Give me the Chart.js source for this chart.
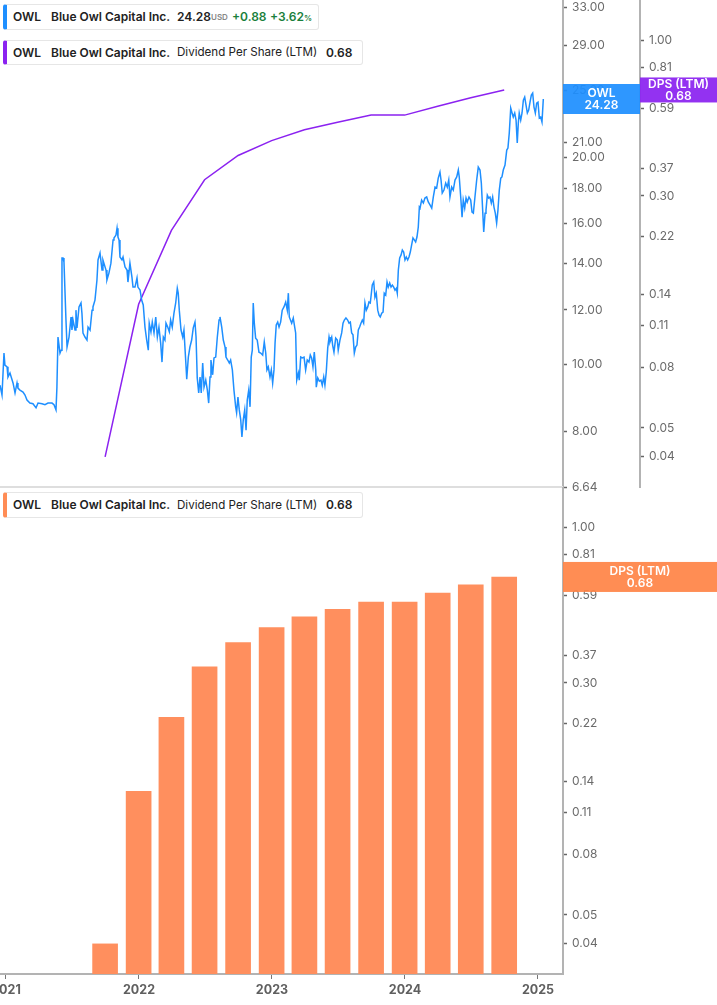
<!DOCTYPE html>
<html>
<head>
<meta charset="utf-8">
<script src="https://cdn.jsdelivr.net/npm/chart.js@4.4.0/dist/chart.umd.min.js"></script>
<style>
  body { margin: 0; background: #fff; width: 717px; height: 1005px; overflow: hidden; position: relative; font-family: Inter, "Noto Sans", sans-serif; }
  canvas { position: absolute; left: 0; }
  #topChart { top: 0; }
  #bottomChart { top: 487px; }
  .lg { position: absolute; left: 3px; height: 24px; background: #fff; border: 1px solid #e6e6e6; border-left: 4px solid; border-radius: 3px; font-size: 12px; font-weight: 600; color: #222; z-index: 2; }
  .lg span { position: absolute; top: 0; line-height: 24px; white-space: nowrap; }
  .lg .sm { font-size: 8px; color: #888; font-weight: 600; }
  .lg .gr { color: #1a7f3c; }
  .lg .gr small { font-size: 8px; }
  .lg .rg { font-weight: 400; font-size: 11.6px; }
</style>
</head>
<body>
<canvas id="topChart" width="717" height="500"></canvas>
<canvas id="bottomChart" width="717" height="518"></canvas>

<div class="lg" style="top:4px; width:311px; border-left-color:#1e8fff;">
  <span style="left:6px">OWL</span>
  <span style="left:44px">Blue Owl Capital Inc.</span>
  <span style="left:170px">24.28</span>
  <span class="sm" style="left:204px">USD</span>
  <span class="gr" style="left:225px">+0.88</span>
  <span class="gr" style="left:263px">+3.62<small>%</small></span>
</div>
<div class="lg" style="top:40px; width:355px; height:23px; border-left-color:#8b22f0;">
  <span style="left:6px; line-height:23px">OWL</span>
  <span style="left:44px; line-height:23px">Blue Owl Capital Inc.</span>
  <span class="rg" style="left:170px; line-height:23px">Dividend Per Share (LTM)</span>
  <span style="left:319px; line-height:23px">0.68</span>
</div>
<div class="lg" style="top:492px; width:355px; border-left-color:#ff8c55;">
  <span style="left:6px">OWL</span>
  <span style="left:44px">Blue Owl Capital Inc.</span>
  <span class="rg" style="left:170px">Dividend Per Share (LTM)</span>
  <span style="left:319px">0.68</span>
</div>

<script>
// axis ticks
const priceTicks = [33, 29, 25, 21, 20, 18, 16, 14, 12, 10, 8, 6.64];
const dpsTicks = [1.0, 0.81, 0.59, 0.37, 0.3, 0.22, 0.14, 0.11, 0.08, 0.05, 0.04];
const yearTicks = [2021, 2022, 2023, 2024, 2025];

// dividend per share (LTM), quarterly
const divDates = ["2021-09-30", "2021-12-31", "2022-03-31", "2022-06-30", "2022-09-30", "2022-12-31",
  "2023-03-31", "2023-06-30", "2023-09-30", "2023-12-31", "2024-03-31", "2024-06-30", "2024-09-30"];
const divValues = [0.04, 0.13, 0.23, 0.34, 0.41, 0.46, 0.50, 0.53, 0.56, 0.56, 0.60, 0.64, 0.68];

// OWL share price (time in decimal years)
const priceTimes = [
  2020.955, 2020.970, 2020.985, 2020.992, 2021.008, 2021.015, 2021.030, 2021.053, 2021.068, 2021.083,
  2021.090, 2021.105, 2021.128, 2021.143, 2021.158, 2021.180, 2021.203, 2021.226, 2021.241, 2021.271,
  2021.293, 2021.316, 2021.346, 2021.361, 2021.376, 2021.383, 2021.391, 2021.406, 2021.414, 2021.421,
  2021.429, 2021.436, 2021.451, 2021.459, 2021.474, 2021.489, 2021.496, 2021.504, 2021.519, 2021.526,
  2021.534, 2021.549, 2021.564, 2021.571, 2021.579, 2021.594, 2021.609, 2021.617, 2021.632, 2021.647,
  2021.654, 2021.669, 2021.684, 2021.692, 2021.707, 2021.722, 2021.729, 2021.752, 2021.759, 2021.774,
  2021.789, 2021.805, 2021.812, 2021.827, 2021.835, 2021.842, 2021.850, 2021.857, 2021.872, 2021.880,
  2021.895, 2021.910, 2021.917, 2021.932, 2021.947, 2021.955, 2021.970, 2021.985, 2021.992, 2022.008,
  2022.020, 2022.032, 2022.045, 2022.058, 2022.070, 2022.077, 2022.090, 2022.100, 2022.113, 2022.126,
  2022.138, 2022.150, 2022.163, 2022.173, 2022.183, 2022.195, 2022.203, 2022.216, 2022.228, 2022.238,
  2022.250, 2022.263, 2022.276, 2022.288, 2022.295, 2022.303, 2022.316, 2022.329, 2022.338, 2022.351,
  2022.359, 2022.371, 2022.383, 2022.396, 2022.408, 2022.421, 2022.429, 2022.438, 2022.449, 2022.459,
  2022.468, 2022.479, 2022.489, 2022.502, 2022.514, 2022.524, 2022.534, 2022.541, 2022.554, 2022.564,
  2022.577, 2022.589, 2022.602, 2022.609, 2022.622, 2022.634, 2022.647, 2022.654, 2022.667, 2022.679,
  2022.689, 2022.702, 2022.714, 2022.727, 2022.734, 2022.744, 2022.754, 2022.765, 2022.774, 2022.784,
  2022.795, 2022.805, 2022.814, 2022.825, 2022.835, 2022.844, 2022.852, 2022.859, 2022.867, 2022.877,
  2022.889, 2022.902, 2022.915, 2022.930, 2022.942, 2022.953, 2022.962, 2022.972, 2022.985, 2022.995,
  2023.005, 2023.015, 2023.023, 2023.032, 2023.043, 2023.053, 2023.065, 2023.077, 2023.090, 2023.103,
  2023.115, 2023.123, 2023.130, 2023.135, 2023.148, 2023.160, 2023.168, 2023.178, 2023.186, 2023.198,
  2023.205, 2023.216, 2023.228, 2023.241, 2023.253, 2023.265, 2023.278, 2023.288, 2023.298, 2023.308,
  2023.318, 2023.329, 2023.333, 2023.344, 2023.356, 2023.368, 2023.378, 2023.389, 2023.398, 2023.408,
  2023.419, 2023.429, 2023.436, 2023.449, 2023.456, 2023.466, 2023.479, 2023.491, 2023.498, 2023.511,
  2023.524, 2023.534, 2023.544, 2023.556, 2023.569, 2023.579, 2023.589, 2023.599, 2023.609, 2023.619,
  2023.629, 2023.639, 2023.649, 2023.659, 2023.669, 2023.679, 2023.689, 2023.699, 2023.709, 2023.720,
  2023.729, 2023.739, 2023.754, 2023.765, 2023.774, 2023.784, 2023.795, 2023.805, 2023.814, 2023.825,
  2023.835, 2023.844, 2023.855, 2023.865, 2023.874, 2023.885, 2023.895, 2023.905, 2023.915, 2023.925,
  2023.935, 2023.942, 2023.950, 2023.960, 2023.970, 2023.980, 2023.990, 2024.000, 2024.010, 2024.020,
  2024.030, 2024.040, 2024.050, 2024.060, 2024.070, 2024.080, 2024.090, 2024.100, 2024.108, 2024.113,
  2024.125, 2024.138, 2024.150, 2024.163, 2024.175, 2024.188, 2024.201, 2024.213, 2024.226, 2024.238,
  2024.250, 2024.263, 2024.271, 2024.280, 2024.293, 2024.306, 2024.318, 2024.329, 2024.338, 2024.351,
  2024.363, 2024.376, 2024.389, 2024.401, 2024.408, 2024.419, 2024.429, 2024.438, 2024.449, 2024.459,
  2024.468, 2024.481, 2024.494, 2024.504, 2024.514, 2024.526, 2024.539, 2024.551, 2024.564, 2024.574,
  2024.584, 2024.592, 2024.602, 2024.609, 2024.619, 2024.629, 2024.639, 2024.649, 2024.659, 2024.669,
  2024.679, 2024.689, 2024.699, 2024.709, 2024.720, 2024.729, 2024.739, 2024.752, 2024.765, 2024.774,
  2024.784, 2024.795, 2024.805, 2024.814, 2024.825, 2024.835, 2024.844, 2024.852, 2024.859, 2024.870,
  2024.880, 2024.890, 2024.900, 2024.910, 2024.920, 2024.930, 2024.940, 2024.950, 2024.960, 2024.970,
  2024.980, 2024.990, 2025.000, 2025.010, 2025.020, 2025.030, 2025.040
];
const priceValues = [
  9.33, 9.03, 10.39, 9.98, 9.92, 9.59, 9.72, 9.40, 9.09, 9.40,
  9.24, 9.18, 9.12, 9.03, 8.88, 8.79, 8.77, 8.65, 8.79, 8.77,
  8.74, 8.79, 8.79, 8.74, 8.59, 9.27, 10.96, 10.39, 10.49, 14.27,
  14.27, 14.08, 11.60, 10.60, 10.96, 11.72, 11.22, 11.60, 11.22, 11.99,
  11.30, 12.12, 12.28, 11.87, 11.11, 10.96, 10.85, 11.33, 11.22, 11.99,
  12.12, 12.40, 13.26, 14.18, 14.51, 13.71, 14.18, 13.71, 13.26, 13.57,
  14.03, 15.16, 15.26, 15.41, 15.77, 15.31, 15.16, 14.32, 14.18, 14.32,
  13.85, 13.71, 13.17, 14.03, 13.39, 12.95, 12.95, 13.35, 12.95, 12.82,
  12.40, 12.20, 11.33, 10.85, 10.49, 11.48, 11.15, 11.52, 11.11, 11.72,
  10.96, 11.33, 10.74, 10.08, 10.96, 10.85, 11.48, 11.33, 11.15, 11.60,
  11.33, 11.87, 12.28, 12.90, 12.69, 11.99, 11.22, 10.96, 11.22, 10.15,
  9.52, 10.25, 10.60, 10.85, 11.30, 11.52, 10.96, 9.56, 9.09, 9.59,
  9.09, 10.05, 9.27, 9.49, 9.18, 8.79, 9.59, 10.15, 9.66, 10.22,
  10.25, 10.96, 11.60, 11.72, 11.33, 10.85, 10.60, 10.25, 10.15, 10.05,
  10.15, 9.82, 9.18, 8.68, 8.51, 8.97, 8.59, 8.31, 7.85, 8.31,
  8.59, 8.03, 8.88, 9.18, 8.68, 10.25, 10.49, 12.28, 11.48, 10.92,
  10.85, 10.42, 10.39, 10.32, 10.78, 10.39, 9.82, 9.92, 9.59, 9.82,
  9.40, 9.82, 10.74, 11.41, 11.52, 11.33, 11.52, 11.99, 12.12, 12.32,
  11.99, 12.69, 11.72, 11.72, 11.48, 11.68, 11.41, 11.11, 9.49, 9.72,
  9.49, 10.25, 10.22, 10.25, 9.82, 10.15, 10.08, 10.32, 10.22, 9.92,
  10.42, 9.82, 9.27, 9.56, 9.46, 9.49, 9.33, 9.59, 9.33, 9.75,
  10.56, 10.96, 10.78, 10.96, 10.67, 10.42, 10.92, 10.85, 10.49, 10.85,
  11.11, 11.48, 11.60, 11.68, 11.60, 11.48, 11.52, 11.11, 11.04, 10.39,
  10.60, 10.67, 11.22, 11.33, 11.48, 11.60, 11.48, 12.28, 11.99, 12.12,
  12.32, 12.28, 13.04, 13.17, 12.52, 12.69, 11.99, 11.79, 11.72, 11.87,
  11.91, 12.69, 12.61, 13.17, 12.95, 13.13, 12.95, 13.04, 12.95, 12.82,
  12.90, 12.69, 13.71, 14.27, 14.41, 14.66, 14.56, 14.18, 14.32, 14.18,
  14.32, 14.56, 14.91, 15.26, 15.16, 15.06, 15.31, 15.83, 16.92, 16.86,
  17.32, 17.15, 17.44, 17.50, 17.21, 17.04, 16.86, 17.50, 18.09, 18.03,
  18.64, 19.02, 18.52, 17.73, 17.91, 18.33, 18.09, 18.52, 17.50, 18.09,
  17.91, 18.52, 18.71, 19.15, 18.71, 17.50, 16.36, 17.32, 16.86, 17.44,
  17.21, 17.50, 17.32, 16.64, 16.58, 17.50, 18.52, 19.34, 19.15, 18.33,
  16.75, 15.57, 16.58, 16.75, 17.61, 17.44, 17.50, 17.15, 17.50, 16.92,
  16.58, 16.04, 16.75, 17.91, 18.64, 18.71, 19.15, 19.47, 20.47, 20.61,
  21.67, 23.55, 23.17, 22.86, 23.17, 22.63, 20.96, 22.41, 23.17, 22.63,
  23.17, 24.19, 24.43, 23.79, 23.17, 23.40, 24.03, 24.60, 24.76, 23.63,
  23.17, 23.95, 24.03, 22.78, 22.86, 22.48, 24.28
];

const lastPrice = 24.28;
const lastDps = 0.68;

// view range
const xMin = 2020.955, xMax = 2025.188;
const priceMin = 6.64, priceMax = 33.8;
const dpsMin = 0.0317, dpsMax = 1.362;

function toYear(s) {
  const [y, m, d] = s.split("-").map(Number);
  const start = Date.UTC(y, 0, 1);
  return y + (Date.UTC(y, m - 1, d) - start) / (Date.UTC(y + 1, 0, 1) - start);
}
const divTimes = divDates.map(toYear);

Chart.defaults.font.family = "Inter, 'Noto Sans', sans-serif";
Chart.defaults.font.size = 12;
Chart.defaults.color = "#6b6b6b";

// draws the value tags on the axes and the panel bottom line
const overlay = {
  id: "overlay",
  afterDraw(chart, args, opts) {
    const ctx = chart.ctx;
    const area = chart.chartArea;
    if (opts.bottomLine) {
      ctx.save();
      ctx.strokeStyle = "#dedede";
      ctx.lineWidth = 2;
      ctx.beginPath();
      ctx.moveTo(area.left, area.bottom);
      ctx.lineTo(area.right, area.bottom);
      ctx.stroke();
      ctx.restore();
    }
    (opts.tags || []).forEach((t) => {
      const s = chart.scales[t.axis];
      const y = s.getPixelForValue(t.value);
      const x0 = s.left, x1 = s.right;
      ctx.save();
      ctx.globalAlpha = 0.93;
      ctx.fillStyle = t.color;
      ctx.fillRect(x0, y - t.h / 2, x1 - x0, t.h);
      ctx.globalAlpha = 1;
      ctx.fillStyle = "#fff";
      ctx.font = "600 12px Inter, 'Noto Sans', sans-serif";
      ctx.textAlign = "center";
      ctx.textBaseline = "middle";
      ctx.fillText(t.lines[0], (x0 + x1) / 2, y - 6);
      ctx.fillText(t.lines[1], (x0 + x1) / 2, y + 6);
      ctx.restore();
    });
  },
};

function logAxis(ticks, min, max, width, extra) {
  return Object.assign({
    type: "logarithmic",
    position: "right",
    min: min,
    max: max,
    afterBuildTicks: (s) => { s.ticks = ticks.map((v) => ({ value: v })); },
    afterFit: (s) => { s.width = width; s.paddingTop = 0; s.paddingBottom = 0; },
    ticks: { autoSkip: false, padding: 5, color: "#6b6b6b", callback: (v) => Number(v).toFixed(2) },
    grid: { drawOnChartArea: false, drawTicks: true, tickLength: 4, tickColor: "#666", tickWidth: 1.5 },
    border: { display: true, color: "#b3b3b3", width: 2 },
  }, extra || {});
}

// top panel: price + DPS line
new Chart(document.getElementById("topChart"), {
  type: "line",
  data: {
    datasets: [
      {
        data: priceTimes.map((t, i) => ({ x: t, y: priceValues[i] })),
        yAxisID: "yPrice",
        borderColor: "#1e8fff",
        borderWidth: 1.5,
        pointRadius: 0,
        tension: 0,
      },
      {
        data: divTimes.map((t, i) => ({ x: t, y: divValues[i] })),
        yAxisID: "yDps",
        borderColor: "#8b22f0",
        borderWidth: 1.5,
        pointRadius: 0,
        tension: 0,
      },
    ],
  },
  options: {
    responsive: false,
    animation: false,
    events: [],
    layout: { padding: { top: 0, bottom: 13, left: 0, right: 0 } },
    plugins: {
      legend: { display: false },
      tooltip: { enabled: false },
      overlay: {
        bottomLine: true,
        tags: [
          { axis: "yPrice", value: lastPrice, h: 30, color: "#1e8fff", lines: ["OWL", lastPrice.toFixed(2)] },
          { axis: "yDps", value: lastDps, h: 25, color: "#8b22f0", lines: ["DPS (LTM)", lastDps.toFixed(2)] },
        ],
      },
    },
    scales: {
      x: { type: "linear", min: xMin, max: xMax, display: false },
      yPrice: logAxis(priceTicks, priceMin, priceMax, 77),
      yDps: logAxis(dpsTicks, dpsMin, dpsMax, 77),
    },
  },
  plugins: [overlay],
});

// bottom panel: DPS bars
new Chart(document.getElementById("bottomChart"), {
  type: "bar",
  data: {
    datasets: [
      {
        data: divTimes.map((t, i) => ({ x: t, y: divValues[i] })),
        yAxisID: "y",
        backgroundColor: "#ff8f5e",
        barThickness: 25,
      },
    ],
  },
  options: {
    responsive: false,
    animation: false,
    events: [],
    layout: { padding: 0 },
    plugins: {
      legend: { display: false },
      tooltip: { enabled: false },
      overlay: {
        tags: [
          { axis: "y", value: lastDps, h: 30, color: "#ff8447", lines: ["DPS (LTM)", lastDps.toFixed(2)] },
        ],
      },
    },
    scales: {
      x: {
        type: "linear",
        min: xMin,
        max: xMax,
        offset: false,
        afterBuildTicks: (s) => { s.ticks = yearTicks.map((v) => ({ value: v })); },
        afterFit: (s) => { s.height = 31; s.paddingLeft = 0; s.paddingRight = 0; },
        ticks: {
          autoSkip: false,
          maxRotation: 0,
          padding: 4,
          color: "#5f5f5f",
          font: { weight: "bold", size: 12.5 },
          callback: (v) => String(v),
        },
        grid: { offset: false, drawOnChartArea: false, drawTicks: true, tickLength: 5, tickColor: "#777", tickWidth: 1 },
        border: { display: true, color: "#b3b3b3", width: 2 },
      },
      y: logAxis(dpsTicks, dpsMin, dpsMax, 154),
    },
  },
  plugins: [overlay],
});
</script>
</body>
</html>
